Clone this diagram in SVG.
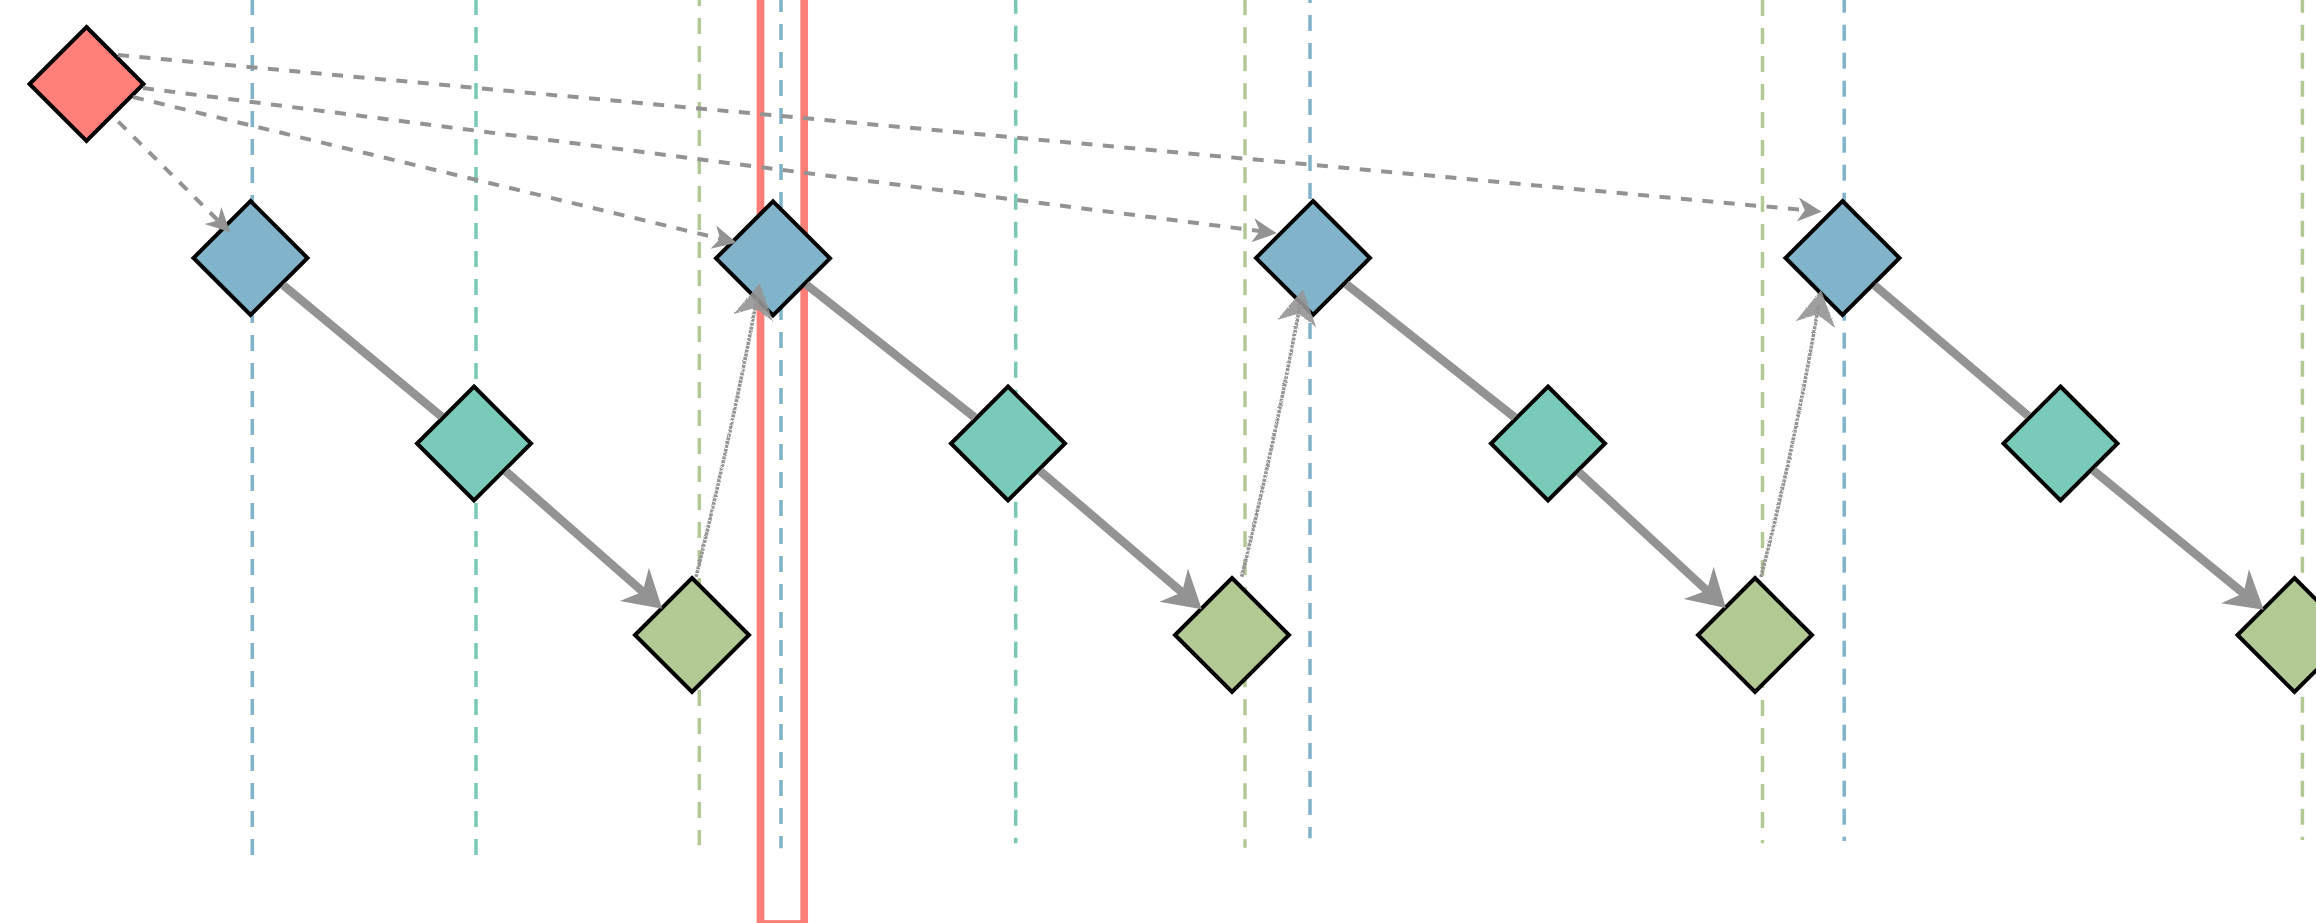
<svg xmlns="http://www.w3.org/2000/svg" width="2316" height="923" viewBox="0 0 2316 923">
<defs>
<style>
.guide{fill:none;stroke-width:3.5;stroke-dasharray:16 12}
.g-blue{stroke:#80B3CA}
.g-teal{stroke:#78CAB7}
.g-green{stroke:#B2C995}
.band{fill:none;stroke:#FF7F78;stroke-width:7.7}
.node{stroke:#000;stroke-width:4}
.red{fill:#FF7F79}
.blue{fill:#81B4CA}
.teal{fill:#79CAB8}
.green{fill:#B2C994}
.dash{fill:none;stroke:#939393;stroke-width:4;stroke-dasharray:11 10.5}
.thick{fill:none;stroke:#939393;stroke-width:8.5}
.sketch{fill:none;stroke:#959595;stroke-width:3.6;stroke-dasharray:3 0.9;filter:url(#rough)}
</style>
<polygon id="dia" points="0,-57 57,0 0,57 -57,0"/>
<marker id="ah-thick" markerUnits="userSpaceOnUse" markerWidth="37" markerHeight="44" refX="17" refY="22" orient="auto" overflow="visible"><path d="M0,0 L37,22 L0,44 L11,22 Z" fill="#939393"/></marker>
<marker id="ah-dash" markerUnits="userSpaceOnUse" markerWidth="24" markerHeight="24" refX="10" refY="12" orient="auto" overflow="visible"><path d="M0,0 L24,12 L0,24 L7,12 Z" fill="#939393"/></marker>
<marker id="ah-sketch" markerUnits="userSpaceOnUse" markerWidth="35" markerHeight="40" refX="20" refY="20" orient="auto" overflow="visible"><path d="M0,0 L35,20 L0,40 L10,20 Z" fill="#959595" fill-opacity="0.9"/></marker>
<filter id="rough" filterUnits="userSpaceOnUse" x="0" y="0" width="2316" height="923"><feTurbulence type="fractalNoise" baseFrequency="0.8" numOctaves="2" seed="3" result="n"/><feDisplacementMap in="SourceGraphic" in2="n" scale="2.5" xChannelSelector="R" yChannelSelector="G"/></filter>
</defs>
<rect x="0" y="0" width="2316" height="923" fill="#fff"/>
<g id="guides">
<line class="guide g-blue" x1="252.3" y1="-1" x2="252.3" y2="855"/>
<line class="guide g-teal" x1="476" y1="-1" x2="476" y2="855"/>
<line class="guide g-green" x1="699.3" y1="-10" x2="699.3" y2="845.3"/>
<line class="guide g-blue" x1="781" y1="-4" x2="781" y2="848.3"/>
<line class="guide g-teal" x1="1015.7" y1="-2.3" x2="1015.7" y2="843.3"/>
<line class="guide g-green" x1="1245" y1="-0.7" x2="1245" y2="847.7"/>
<line class="guide g-blue" x1="1310" y1="-13" x2="1310" y2="838.3"/>
<line class="guide g-green" x1="1762.5" y1="0" x2="1762.5" y2="843.3"/>
<line class="guide g-blue" x1="1844.2" y1="-3.3" x2="1844.2" y2="841"/>
<line class="guide g-green" x1="2302.4" y1="-3.3" x2="2302.4" y2="840"/>
<rect class="band" x="760.5" y="-10" width="43.7" height="934"/>
</g>
<g id="n-red" class="node red"><use href="#dia" x="86.5" y="84"/></g>
<g id="n-blue1" class="node blue"><use href="#dia" x="250.5" y="258"/></g>
<g id="n-teal1" class="node teal"><use href="#dia" x="474" y="443.5"/></g>
<g id="n-green1" class="node green"><use href="#dia" x="692" y="635"/></g>
<g id="n-blue2" class="node blue"><use href="#dia" x="773" y="258.3"/></g>
<g id="n-teal2" class="node teal"><use href="#dia" x="1008" y="443.5"/></g>
<g id="n-green2" class="node green"><use href="#dia" x="1232" y="635"/></g>
<g id="n-blue3" class="node blue"><use href="#dia" x="1313" y="258"/></g>
<g id="n-teal3" class="node teal"><use href="#dia" x="1548" y="443.5"/></g>
<g id="n-green3" class="node green"><use href="#dia" x="1755" y="635"/></g>
<g id="n-blue4" class="node blue"><use href="#dia" x="1842.5" y="258"/></g>
<g id="n-teal4" class="node teal"><use href="#dia" x="2060.5" y="443.5"/></g>
<g id="n-green4" class="node green"><use href="#dia" x="2294.5" y="635"/></g>
<g id="connectors">
<path class="dash" d="M118.3,121.7 L220.1,222.5" marker-end="url(#ah-dash)"/>
<path class="dash" d="M133,97 L723.1,239.4" marker-end="url(#ah-dash)"/>
<path class="dash" d="M143,88 L1262.8,231.5" marker-end="url(#ah-dash)"/>
<path class="dash" d="M118,55 L1807.8,210.4" marker-end="url(#ah-dash)"/>
<path class="thick" d="M283,285 L441.5,416.5"/>
<path class="thick" d="M505.7,471.3 L647.2,595.6" marker-end="url(#ah-thick)"/>
<path class="thick" d="M806.3,284.5 L974.7,417.3"/>
<path class="thick" d="M1040.1,470.9 L1186.6,596.2" marker-end="url(#ah-thick)"/>
<path class="thick" d="M1346.3,284.2 L1514.7,417.3"/>
<path class="thick" d="M1578.9,472.1 L1711.2,594.5" marker-end="url(#ah-thick)"/>
<path class="thick" d="M1874.7,285.4 L2028.3,416.1"/>
<path class="thick" d="M2093.2,470.3 L2248.2,597.1" marker-end="url(#ah-thick)"/>
<path class="sketch" d="M696,577 Q730.4,438.5 757,298.2" marker-end="url(#ah-sketch)"/>
<path class="sketch" d="M1241.7,576.7 Q1274.9,441.2 1300.2,304" marker-end="url(#ah-sketch)"/>
<path class="sketch" d="M1761,577 Q1795.7,442.1 1818.6,304.7" marker-end="url(#ah-sketch)"/>
</g>
</svg>
